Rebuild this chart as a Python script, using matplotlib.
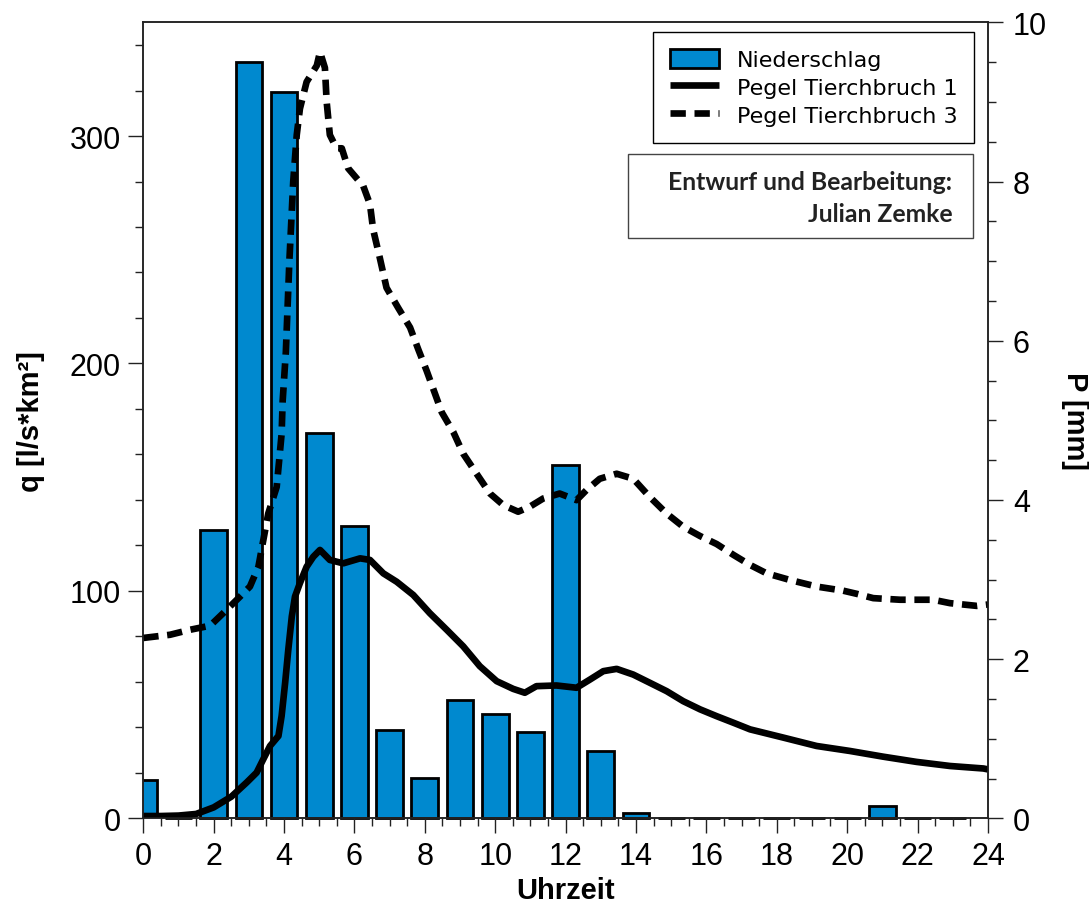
import matplotlib
matplotlib.use("Agg")
import matplotlib.pyplot as plt
from matplotlib.ticker import MultipleLocator
from matplotlib.patches import Rectangle

# ---------------- data ----------------
hours = list(range(24))
precip_mm = [0.48, 0.0, 3.62, 9.50, 9.12, 4.84, 3.67, 1.11, 0.51, 1.49, 1.31, 1.09,
             4.44, 0.85, 0.07, 0.0, 0.0, 0.0, 0.0, 0.0, 0.0, 0.15, 0.0, 0.0]

t1_h = [0, 0.5, 1.0, 1.5, 2.0, 2.5, 2.94, 3.22, 3.41, 3.6, 3.84, 3.93, 4.03, 4.12,
        4.22, 4.31, 4.45, 4.64, 4.83, 5.02, 5.3, 5.68, 6.16, 6.44, 6.82, 7.2, 7.67,
        8.14, 8.62, 9.09, 9.56, 10.04, 10.51, 10.84, 11.17, 11.74, 12.31, 12.69,
        13.07, 13.45, 13.92, 14.39, 14.87, 15.34, 15.82, 16.29, 16.77, 17.24, 18.18,
        19.13, 20.08, 21.02, 21.97, 22.92, 23.87, 24]
t1_q = [1, 1, 1.2, 1.9, 4.8, 9.5, 15.8, 20.1, 26, 31.8, 36.2, 45, 59.6, 74.2,
        88.8, 97.5, 103.4, 110.6, 115, 118, 113.6, 112.1, 114.3, 113.6, 107.7, 104, 98.2,
        90.2, 82.9, 75.6, 66.9, 60.3, 56.9, 55.2, 58.1, 58.4, 57.4, 61,
        64.7, 65.7, 63.2, 59.6, 55.9, 51.5, 47.9, 44.9, 42, 39.1, 35.5,
        31.8, 29.6, 27.1, 24.8, 23, 21.9, 21.5]

t3_h = [0, 0.76, 1.33, 1.9, 2.27, 2.75, 3.03, 3.27, 3.41, 3.55, 3.79, 3.93, 3.96,
        4.05, 4.15, 4.26, 4.36, 4.45, 4.64, 4.93, 5.02, 5.16, 5.21, 5.3, 5.49, 5.64,
        5.82, 6.25, 6.44, 6.53, 6.72, 6.91, 7.24, 7.58, 7.81, 8.05, 8.29, 8.48, 8.81,
        9.09, 9.47, 9.85, 10.23, 10.65, 10.98, 11.36, 11.83, 12.31, 12.59, 12.97,
        13.45, 13.92, 14.39, 14.87, 15.34, 15.82, 16.29, 16.77, 17.24, 17.71, 18.37,
        19.13, 19.88, 20.27, 20.74, 21.5, 22.44, 22.92, 23.68, 24]
t3_q = [79.3, 80.7, 82.9, 84.7, 90.2, 97.5, 101.9, 110.6, 122.3, 134, 145.7, 169, 183.6,
        205, 245, 280, 300.5, 312, 323.8, 331, 337, 330, 315, 300.5, 294.6, 294.6,
        285.8, 278, 270, 258.9, 246.4, 233.3, 224.5, 215.8, 206.3, 196.8, 186.6, 178.5, 169.8,
        160.3, 151.5, 142.8, 137.7, 134.8, 137, 140.6, 142.8, 139.9, 144.3, 149.3,
        151.5, 149.3, 141.3, 134, 128.2, 124.1, 120.6, 115.8, 111.4, 107.7, 104.8,
        101.9, 100.1, 98.7, 96.8, 96.1, 96.1, 94.6, 93.4, 94]

labels = ["Niederschlag", "Pegel Tierchbruch 1", "Pegel Tierchbruch 3"]
xlabel = "Uhrzeit"
ylabel_left = "q [l/s*km²]"
ylabel_right = "P [mm]"
credit = ["Entwurf und Bearbeitung:", "Julian Zemke"]

# ---------------- figure ----------------
W, H = 1089, 912
fig = plt.figure(figsize=(W / 100, H / 100), dpi=100)
L, R, B, T = 143.3 / W, 988 / W, (H - 819.3) / H, (H - 23.3) / H
ax = fig.add_axes([L, B, R - L, T - B])
ax2 = ax.twinx()

bar_color = "#0089cf"
bars = ax2.bar(hours, precip_mm, width=0.76, color=bar_color, edgecolor="black",
               linewidth=2.0, label=labels[0], zorder=2)
for p in bars:
    if p.get_x() >= 0:
        p.set_clip_on(False)

ax.plot(t1_h, t1_q, color="black", lw=4.8, solid_capstyle="butt",
        solid_joinstyle="round", label=labels[1])
ax.plot(t3_h, t3_q, color="black", lw=4.8, dashes=(2.3, 1.3),
        label=labels[2])

ax.set_zorder(ax2.get_zorder() + 1)
ax.patch.set_visible(False)

ax.set_xlim(0, 24)
ax.set_ylim(0, 350)
ax2.set_ylim(0, 10)

ax.xaxis.set_major_locator(MultipleLocator(2))
ax.xaxis.set_minor_locator(MultipleLocator(0.5))
ax.yaxis.set_major_locator(MultipleLocator(100))
ax.yaxis.set_minor_locator(MultipleLocator(20))
ax2.yaxis.set_major_locator(MultipleLocator(2))
ax2.yaxis.set_minor_locator(MultipleLocator(0.5))

tick_font = "Liberation Sans"
for a in (ax, ax2):
    a.tick_params(which="major", direction="out", length=11, width=1.0,
                  labelsize=22, color="#222222")
    a.tick_params(which="minor", direction="out", length=5.5, width=1.0,
                  color="#222222")
    for lab in a.get_xticklabels() + a.get_yticklabels():
        lab.set_fontfamily(tick_font)
    for s in a.spines.values():
        s.set_linewidth(1.1)
        s.set_color("#222222")
ax.tick_params(axis="x", pad=5)
ax.tick_params(axis="y", pad=5)
ax2.tick_params(axis="y", pad=7)

lab_kw = dict(fontfamily=tick_font, fontweight="bold", fontsize=21)
ax.set_xlabel(xlabel, labelpad=4, **lab_kw)
ax.set_ylabel(ylabel_left, labelpad=18, **lab_kw)
ax2.set_ylabel(ylabel_right, rotation=-90, labelpad=30, **lab_kw)

# legend
h1, l1 = ax2.get_legend_handles_labels()
h2, l2 = ax.get_legend_handles_labels()
leg = ax.legend(h1 + h2, l1 + l2, loc="upper right",
                bbox_to_anchor=(0.9834, 0.9874), borderaxespad=0,
                frameon=True, fancybox=False, framealpha=1, edgecolor="black",
                prop=dict(family="DejaVu Sans", size=16), handlelength=2.2,
                handleheight=0.95, labelspacing=0.3, handletextpad=0.8,
                borderpad=0.75)
leg.get_frame().set_linewidth(1.0)

# credit box
ax.add_patch(Rectangle((0.5742, 0.7286), 0.9819 - 0.5742, 0.8346 - 0.7286,
                       transform=ax.transAxes, facecolor="white",
                       edgecolor="#444444", linewidth=1.0, zorder=5))
ax.text(0.9577, 0.7906, credit[0], transform=ax.transAxes, ha="right",
        va="baseline", fontfamily="Lato", fontweight="bold", fontsize=17.8,
        color="#222222", zorder=6)
ax.text(0.9577, 0.7508, credit[1], transform=ax.transAxes, ha="right",
        va="baseline", fontfamily="Lato", fontweight="bold", fontsize=17.8,
        color="#222222", zorder=6)

fig.savefig("out.png", dpi=100)
